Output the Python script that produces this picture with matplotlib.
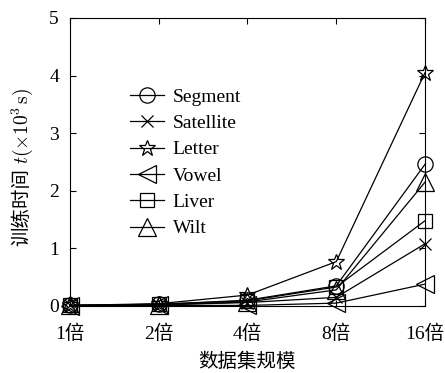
import matplotlib
matplotlib.use("Agg")
import matplotlib.pyplot as plt

plt.rcParams['font.family'] = ['Liberation Serif', 'Noto Sans CJK SC']
plt.rcParams['mathtext.fontset'] = 'cm'

categories = ['1倍', '2倍', '4倍', '8倍', '16倍']
series_names = ['Segment', 'Satellite', 'Letter', 'Vowel', 'Liver', 'Wilt']
segment = [0.01, 0.03, 0.10, 0.35, 2.46]
satellite = [0.01, 0.02, 0.06, 0.15, 1.08]
letter = [0.01, 0.04, 0.19, 0.77, 4.05]
vowel = [0.00, 0.01, 0.01, 0.05, 0.38]
liver = [0.01, 0.03, 0.09, 0.33, 1.48]
wilt = [0.01, 0.02, 0.07, 0.28, 2.15]
all_series = [segment, satellite, letter, vowel, liver, wilt]
markers = ['o', 'x', '*', '<', 's', '^']
msizes = [11, 8, 12, 13, 10, 13]

W, H = 445, 373
fig = plt.figure(figsize=(W/100, H/100), dpi=100)
ax = fig.add_axes([70/W, 1-306/H, 355/W, 288/H])
x = list(range(len(categories)))
for name, vals, m, ms in zip(series_names, all_series, markers, msizes):
    ax.plot(x, vals, color='black', lw=0.9, marker=m, ms=ms,
            mfc='none', mec='black', mew=0.9, label=name, clip_on=False)

ax.set_xlim(0, 4)
ax.set_ylim(0, 5)
ax.set_xticks(x)
ax.set_xticklabels(categories, fontsize=14)
ax.set_yticks([0, 1, 2, 3, 4, 5])
ax.tick_params(direction='in', top=True, right=True, labelsize=14, length=4)
ax.tick_params(axis='x', pad=13)
ax.tick_params(axis='y', pad=8)
fig.text(247/W, 1-362/H, '数据集规模', ha='center', va='center', fontsize=14)

t1 = fig.text(22/W, 1-246/H, '训练时间', rotation=90, ha='center', va='bottom', fontsize=14)
fig.canvas.draw()
bb = t1.get_window_extent(renderer=fig.canvas.get_renderer())
top_y = (bb.y1 + 4) / H
fig.text(22/W, top_y, r'$t(\times10^3\,\mathrm{s})$', rotation=90, ha='center',
         va='bottom', fontsize=14)

leg = ax.legend(loc='upper left', bbox_to_anchor=(60/355, 1-(88-18)/288), frameon=False,
                fontsize=14, handlelength=1.75, labelspacing=0.45, handletextpad=0.45,
                borderaxespad=0, borderpad=0)
fig.savefig('out.png', dpi=100)
